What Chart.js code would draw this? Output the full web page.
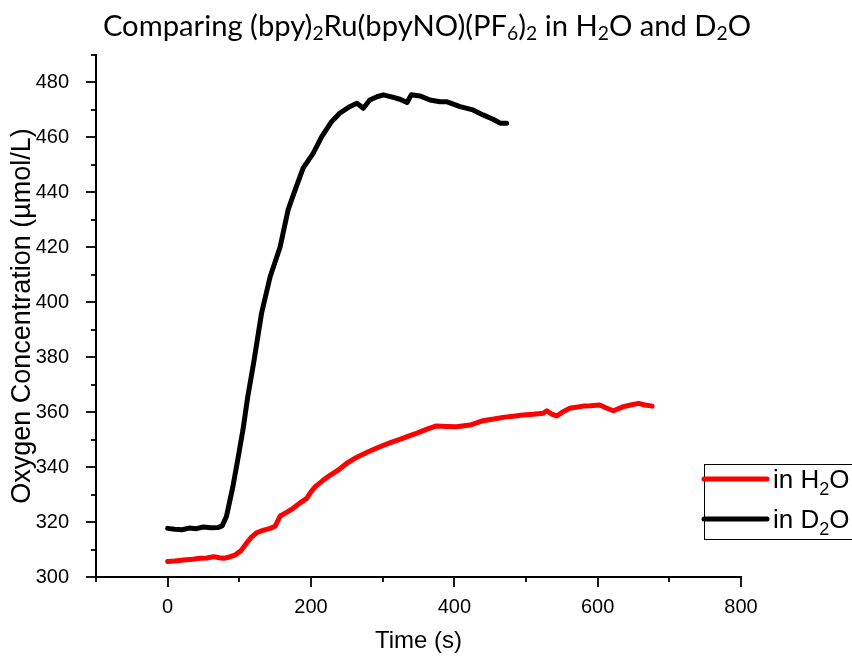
<!DOCTYPE html>
<html>
<head>
<meta charset="utf-8">
<script src="https://cdn.jsdelivr.net/npm/chart.js@4.4.1/dist/chart.umd.min.js"></script>
<style>
  html, body { margin: 0; padding: 0; background: #fff; }
</style>
</head>
<body>
<canvas id="chart" width="852" height="657"></canvas>
<script>
const chartTitle = 'Comparing (bpy)₂Ru(bpyNO)(PF₆)₂ in H₂O and D₂O';
const xAxisTitle = 'Time (s)';
const yAxisTitle = 'Oxygen Concentration (µmol/L)';
const xTickValues = [0, 200, 400, 600, 800];
const yTickValues = [300, 320, 340, 360, 380, 400, 420, 440, 460, 480];
const seriesLabels = ['in H₂O', 'in D₂O'];

// in H2O (red)
const timeH2O = [0, 10, 22, 35, 45, 55, 64, 72, 78, 86,
  94, 102, 110, 117, 124, 133, 143, 150, 157, 166,
  175, 185, 194, 200, 206, 216, 227, 240, 250, 264,
  280, 296, 310, 324, 336, 347, 362, 375, 390, 403,
  422, 440, 455, 468, 482, 496, 510, 524, 529, 536,
  543, 552, 561, 570, 580, 590, 603, 612, 622, 636,
  646, 657, 666, 676];
const o2H2O = [305.6, 305.8, 306.2, 306.5, 306.8, 306.9, 307.4, 307.0, 306.8, 307.3,
  308, 309.5, 312.3, 314.5, 316.1, 317, 317.7, 318.5, 322.2, 323.5,
  325, 327, 328.6, 331, 332.9, 335, 337.1, 339.3, 341.4, 343.6,
  345.6, 347.4, 348.8, 350.1, 351.3, 352.3, 353.8, 355, 354.8, 354.7,
  355.3, 356.9, 357.5, 358.1, 358.5, 359, 359.2, 359.6, 360.5, 359.3,
  358.6, 360.2, 361.4, 361.8, 362.2, 362.3, 362.6, 361.5, 360.5, 362,
  362.6, 363.2, 362.6, 362.2];

// in D2O (black)
const timeD2O = [0, 10, 20, 30, 40, 50, 60, 70, 76, 82,
  91, 98, 105, 112, 120, 131, 143, 157, 168, 178,
  189, 203, 215, 228, 240, 254, 264, 273, 282, 292,
  301, 315, 324, 334, 340, 352, 366, 380, 389, 408,
  426, 440, 454, 464, 473];
const o2D2O = [317.7, 317.4, 317.2, 317.8, 317.6, 318.2, 317.9, 318.0, 318.6, 322,
  332.9, 343, 353.5, 366, 378, 396, 409.3, 420.2, 433.6, 441,
  448.8, 454.2, 460.3, 465.5, 468.8, 471.2, 472.4, 470.6, 473.6, 474.8,
  475.5, 474.6, 473.9, 472.7, 475.5, 475.1, 473.6, 473, 473, 471.2,
  470, 468.2, 466.6, 465.2, 465.2];

const arial = '"Liberation Sans", Arial, sans-serif';

function toPoints(xs, ys) {
  return xs.map((x, i) => ({ x: x, y: ys[i] }));
}

// draws text where unicode subscript digits are drawn as small lowered digits
function drawRich(ctx, text, x, y, size, family, subScale, subShift, align) {
  const segs = [];
  for (const ch of text) {
    const code = ch.charCodeAt(0);
    const sub = code >= 0x2080 && code <= 0x2089;
    const c = sub ? String(code - 0x2080) : ch;
    const last = segs[segs.length - 1];
    if (last && last.sub === sub) last.t += c;
    else segs.push({ t: c, sub: sub });
  }
  const fontFor = s => (s.sub ? size * subScale : size) + 'px ' + family;
  let w = 0;
  segs.forEach(s => { ctx.font = fontFor(s); s.w = ctx.measureText(s.t).width; w += s.w; });
  let cx = align === 'center' ? x - w / 2 : x;
  ctx.textAlign = 'left';
  ctx.textBaseline = 'alphabetic';
  segs.forEach(s => {
    ctx.font = fontFor(s);
    ctx.fillText(s.t, cx, s.sub ? y + size * subShift : y);
    cx += s.w;
  });
}

const decorPlugin = {
  id: 'decor',
  afterDraw(chart) {
    const ctx = chart.ctx;
    const xs = chart.scales.x, ys = chart.scales.y;
    const area = chart.chartArea;
    ctx.save();
    ctx.strokeStyle = '#000';
    ctx.lineWidth = 1.8;
    // tick marks, major every 200 / 20, minor between
    for (let v = -100; v <= 800; v += 100) {
      const px = Math.round(xs.getPixelForValue(v));
      const len = v % 200 === 0 ? 10 : 5;
      ctx.beginPath(); ctx.moveTo(px, area.bottom); ctx.lineTo(px, area.bottom + len); ctx.stroke();
    }
    for (let v = 300; v <= 490; v += 10) {
      const py = Math.round(ys.getPixelForValue(v));
      const len = v % 20 === 0 ? 10 : 5;
      ctx.beginPath(); ctx.moveTo(area.left, py); ctx.lineTo(area.left - len, py); ctx.stroke();
    }

    // title
    ctx.fillStyle = '#000';
    drawRich(ctx, chartTitle, 427, 36, 29.2, 'Lato, sans-serif', 0.66, 0.12, 'center');

    // legend box
    ctx.lineWidth = 1;
    ctx.strokeRect(704.5, 464.5, 160, 75);
    chart.data.datasets.forEach((ds, i) => {
      const ly = 479 + i * 40;
      ctx.strokeStyle = ds.borderColor;
      ctx.lineWidth = 5;
      ctx.lineCap = 'round';
      ctx.beginPath(); ctx.moveTo(704, ly); ctx.lineTo(767, ly); ctx.stroke();
      ctx.fillStyle = '#000';
      drawRich(ctx, ds.label, 773, ly + 9, 26, arial, 0.7, 0.28, 'left');
    });
    ctx.restore();
  }
};

new Chart(document.getElementById('chart'), {
  type: 'line',
  data: {
    datasets: [{
      label: seriesLabels[0],
      data: toPoints(timeH2O, o2H2O),
      borderColor: '#ff0000',
      borderWidth: 5,
      pointRadius: 0,
      tension: 0,
      borderCapStyle: 'round',
      borderJoinStyle: 'round'
    }, {
      label: seriesLabels[1],
      data: toPoints(timeD2O, o2D2O),
      borderColor: '#000000',
      borderWidth: 5,
      pointRadius: 0,
      tension: 0,
      borderCapStyle: 'round',
      borderJoinStyle: 'round'
    }]
  },
  options: {
    responsive: false,
    animation: false,
    devicePixelRatio: 1,
    layout: { padding: { top: 55, right: 111, left: 0, bottom: 0 } },
    plugins: {
      legend: { display: false },
      tooltip: { enabled: false }
    },
    scales: {
      x: {
        type: 'linear',
        min: -100,
        max: 800,
        afterBuildTicks: s => { s.ticks = xTickValues.map(v => ({ value: v })); },
        afterFit: s => { s.height = 80; },
        grid: { display: false },
        border: { display: true, color: '#000', width: 2 },
        ticks: {
          color: '#000',
          padding: 10,
          maxRotation: 0,
          autoSkip: false,
          font: { family: arial, size: 20 }
        },
        title: {
          display: true,
          text: xAxisTitle,
          color: '#000',
          padding: { top: 0, bottom: 1 },
          font: { family: arial, size: 24 }
        }
      },
      y: {
        min: 300,
        max: 490,
        afterBuildTicks: s => { s.ticks = yTickValues.map(v => ({ value: v })); },
        afterFit: s => { s.width = 96; },
        grid: { display: false },
        border: { display: true, color: '#000', width: 2 },
        ticks: {
          color: '#000',
          padding: 19,
          autoSkip: false,
          font: { family: arial, size: 20 }
        },
        title: {
          display: true,
          text: yAxisTitle,
          color: '#000',
          padding: { top: 6, bottom: 0 },
          font: { family: arial, size: 27 }
        }
      }
    }
  },
  plugins: [decorPlugin]
});
</script>
</body>
</html>
